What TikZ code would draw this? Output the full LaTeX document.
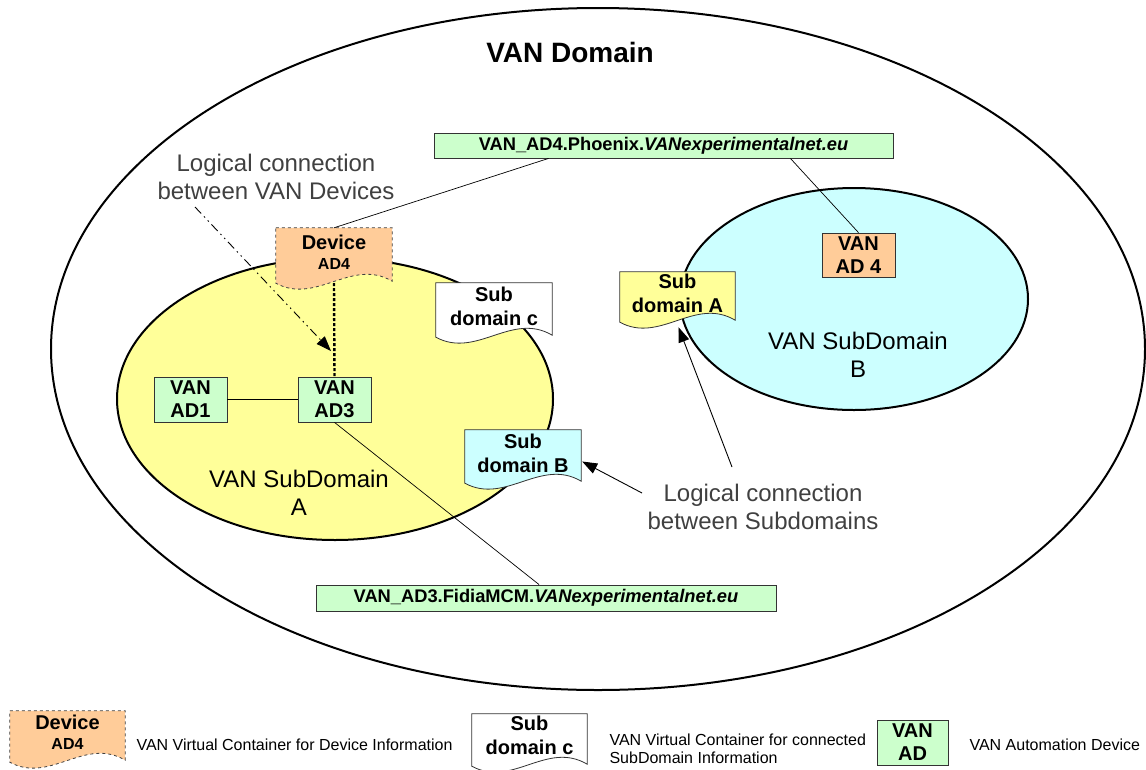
\documentclass[tikz,border=0pt]{standalone}
\usepackage{fontspec}
\setmainfont{Liberation Sans}
\usetikzlibrary{arrows.meta,calc,backgrounds}
\pgfdeclarelayer{shapes}
\pgfsetlayers{background,shapes,main}

\definecolor{subA}{HTML}{FFFF99}
\definecolor{subB}{HTML}{CCFFFF}
\definecolor{devgreen}{HTML}{CCFFCC}
\definecolor{devorange}{HTML}{FFCC99}
\definecolor{notegray}{HTML}{404040}
\definecolor{edgegray}{HTML}{333333}

% document-like container: flat top, wavy bottom, drawn from the node's frame
\newcommand\wavedoc[2]{%
  \path[#2] (#1.north west) -- (#1.north east) -- ($(#1.south east)+(0,-2)$)
    .. controls ($(#1.south east)!0.35!(#1.south west)+(0,-26)$)
    and ($(#1.south east)!0.65!(#1.south west)+(0,22)$) .. (#1.south west) -- cycle;}

\tikzset{
  devbox/.style={draw=edgegray, line width=0.8pt, fill=devgreen, inner sep=0pt,
    align=center, font=\fontsize{20}{23}\selectfont\bfseries},
  namebox/.style={draw=edgegray, line width=0.8pt, fill=devgreen, inner sep=0pt,
    font=\fontsize{18.3}{21}\selectfont\bfseries},
  docframe/.style={inner sep=0pt, align=center, text depth=7pt,
    font=\fontsize{20}{24}\selectfont\bfseries},
  note/.style={align=center, text=notegray, font=\fontsize{24}{28}\selectfont},
  domlabel/.style={align=center, font=\fontsize{24}{28}\selectfont},
  legendtext/.style={align=left, anchor=west, font=\fontsize{16}{18}\selectfont},
  link/.style={line width=0.7pt, draw=black},
  pointer/.style={line width=0.9pt, -{Triangle[length=15pt,width=11pt]}},
}

\begin{document}
\begin{tikzpicture}[x=1pt, y=-1pt]
\useasboundingbox (0,0) rectangle (1146,769);

% domains
\begin{pgfonlayer}{background}
  \fill[white] (0,0) rectangle (1146,769);
  \draw[line width=2pt] (598,349) ellipse [x radius=547, y radius=341];
  \draw[line width=2pt, fill=subA] (335,399) ellipse [x radius=218, y radius=141];
  \draw[line width=2pt, fill=subB] (854,299) ellipse [x radius=174, y radius=111];
\end{pgfonlayer}

\node[font=\fontsize{28}{32}\selectfont\bfseries] (title) at (570,52) {VAN Domain};

% automation devices
\node[devbox, minimum width=73, minimum height=45] (ad1) at (190.5,399.5) {VAN\\AD1};
\node[devbox, minimum width=73, minimum height=45] (ad3) at (334.5,399.5) {VAN\\AD3};
\node[devbox, fill=devorange, minimum width=73, minimum height=44] (ad4) at (858.5,255) {VAN\\AD 4};

% device names
\node[namebox, minimum width=459, minimum height=25] (phoenix) at (663.5,145.5)
  {VAN\_AD4.Phoenix.\textit{VANexperimentalnet.eu}};
\node[namebox, minimum width=460, minimum height=26] (fidia) at (546,598)
  {VAN\_AD3.FidiaMCM.\textit{VANexperimentalnet.eu}};

% virtual containers
\node[docframe, text depth=6pt, minimum width=116, minimum height=55] (dev) at (334,255.5)
  {Device\\[-4pt]{\fontsize{16}{18}\selectfont AD4}};
\node[docframe, text depth=8pt, minimum width=116, minimum height=54] (subc) at (494,310) {Sub\\domain c};
\node[docframe, minimum width=115, minimum height=50] (subAdoc) at (677.5,297) {Sub\\domain A};
\node[docframe, minimum width=116, minimum height=53] (subBdoc) at (523,456.5) {Sub\\domain B};

\begin{pgfonlayer}{shapes}
  \wavedoc{dev}{fill=devorange, draw=notegray, dashed, line width=0.8pt}
  \wavedoc{subc}{fill=white, draw=edgegray, line width=0.8pt}
  \wavedoc{subAdoc}{fill=subA, draw=edgegray, line width=0.8pt}
  \wavedoc{subBdoc}{fill=subB, draw=edgegray, line width=0.8pt}
\end{pgfonlayer}

% labels
\node[domlabel] (labA) at (299,493) {VAN SubDomain\\A};
\node[domlabel] (labB) at (858,355) {VAN SubDomain\\B};
\node[note] (devnote) at (276,177) {Logical connection\\between VAN Devices};
\node[note] (subnote) at (763,507) {Logical connection\\between Subdomains};

% connectors
\draw[link] (ad1) -- (ad3);
\draw[link] ($(phoenix.south west)!0.25!(phoenix.south east)$) -- (dev.north);
\draw[link] ($(phoenix.south west)!0.776!(phoenix.south east)$) -- (ad4.north);
\draw[link] (ad3.south) -- ($(fidia.north west)!0.485!(fidia.north east)$);
\draw[line width=2.4pt, dash pattern=on 3pt off 2pt] (dev.south) -- (ad3.north);

\coordinate (ddtail) at (195,207);
\coordinate (ddtip) at (331,351);
\draw[pointer, dash pattern=on 9pt off 4pt on 1.5pt off 4pt on 1.5pt off 4pt] (ddtail) -- (ddtip);

\coordinate (tailA) at (732,467);
\coordinate (tailB) at (642,493);
\draw[pointer] (tailA) -- ($(subAdoc.south)+(1,5)$);
\draw[pointer] (tailB) -- ($(subBdoc.east)+(1,5)$);

% legend
\node[docframe, text depth=8pt, minimum width=115, minimum height=51] (legdev) at (67.5,736.5)
  {Device\\[-4pt]{\fontsize{16}{18}\selectfont AD4}};
\node[docframe, text depth=10pt, minimum width=115, minimum height=52] (legsub) at (529.5,740) {Sub\\domain c};
\begin{pgfonlayer}{shapes}
  \wavedoc{legdev}{fill=devorange, draw=notegray, dashed, line width=0.8pt}
  \wavedoc{legsub}{fill=white, draw=edgegray, line width=0.8pt}
\end{pgfonlayer}
\node[devbox, minimum width=71, minimum height=45] (legad) at (912.5,742.5) {VAN\\AD};

\node[legendtext] (legdevtxt) at (133,745) {VAN Virtual Container for Device Information};
\node[legendtext] (legsubtxt) at (606,749) {VAN Virtual Container for connected\\SubDomain Information};
\node[legendtext] (legadtxt) at (966,745) {VAN Automation Device};
\end{tikzpicture}
\end{document}
